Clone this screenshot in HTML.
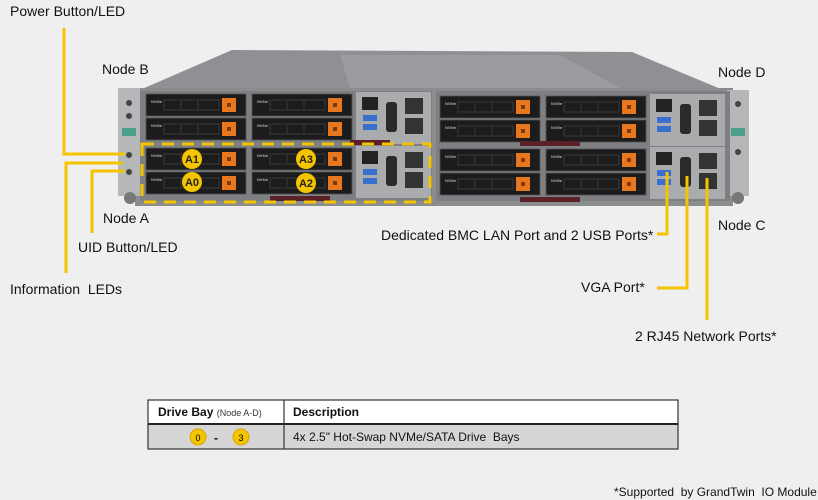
<!DOCTYPE html>
<html><head><meta charset="utf-8"><style>
html,body{margin:0;padding:0;background:#efefef;}
body{width:818px;height:500px;overflow:hidden;position:relative;font-family:"Liberation Sans",sans-serif;}
svg{position:absolute;left:0;top:0}
</style></head><body>
<svg width="818" height="500" viewBox="0 0 818 500" xmlns="http://www.w3.org/2000/svg" font-family="Liberation Sans, sans-serif">
<defs>
<g id="drive">
  <rect x="0" y="0" width="100" height="22" fill="#1c1c1c" stroke="#555" stroke-width="0.8"/>
  <rect x="18" y="6" width="55" height="10" fill="none" stroke="#3a3a3a" stroke-width="1"/>
  <line x1="35" y1="6" x2="35" y2="16" stroke="#3a3a3a"/>
  <line x1="52" y1="6" x2="52" y2="16" stroke="#3a3a3a"/>
  <text x="5" y="9" font-size="4" fill="#ddd">NVMe</text>
  <rect x="76" y="4" width="14" height="14" fill="#e8771e"/>
  <rect x="81" y="9" width="4" height="4" fill="#7a3a10"/>
</g>
<g id="io">
  <rect x="0" y="0" width="75" height="52" fill="#a9abad"/>
  <rect x="6" y="5" width="16" height="13" fill="#222"/>
  <rect x="7" y="23" width="14" height="6" fill="#3a6fd0"/>
  <rect x="7" y="32" width="14" height="6" fill="#3a6fd0"/>
  <rect x="30" y="10" width="11" height="30" rx="3" fill="#2a2a2a"/>
  <rect x="49" y="6" width="18" height="16" fill="#333"/>
  <rect x="49" y="26" width="18" height="16" fill="#333"/>
</g>
<g id="node">
  <use href="#drive" x="0" y="0"/><use href="#drive" x="0" y="24"/>
  <use href="#drive" x="106" y="0"/><use href="#drive" x="106" y="24"/>
  <use href="#io" x="210" y="-2"/>
</g>
</defs>
<!-- chassis top -->
<polygon points="232,50 632,52 728,92 135,92" fill="#8e9093"/>
<polygon points="340,55 560,55 620,88 350,88" fill="#9a9c9f"/>
<!-- front -->
<rect x="135" y="88" width="598" height="118" fill="#8a8c8e"/>
<rect x="118" y="88" width="22" height="108" fill="#b5b7b9"/>
<rect x="727" y="90" width="22" height="106" fill="#b5b7b9"/>
<circle cx="130" cy="198" r="6" fill="#777"/><circle cx="738" cy="198" r="6" fill="#777"/>
<rect x="122" y="128" width="14" height="8" fill="#4aa08a"/><rect x="731" y="128" width="14" height="8" fill="#4aa08a"/>
<circle cx="129" cy="103" r="3" fill="#444"/><circle cx="129" cy="116" r="3" fill="#444"/>
<circle cx="129" cy="155" r="3" fill="#444"/><circle cx="129" cy="172" r="3" fill="#444"/>
<circle cx="738" cy="104" r="3" fill="#444"/><circle cx="738" cy="152" r="3" fill="#444"/>
<rect x="140" y="91" width="292" height="110" fill="#7d7f82"/>
<rect x="436" y="91" width="294" height="110" fill="#7d7f82"/>
<use href="#node" x="146" y="94"/>
<use href="#node" x="146" y="148"/>
<use href="#node" x="440" y="96"/>
<use href="#node" x="440" y="149"/>
<rect x="350" y="140" width="40" height="5" fill="#5a2226"/>
<rect x="520" y="141" width="60" height="5" fill="#5a2226"/>
<rect x="520" y="197" width="60" height="5" fill="#5a2226"/>
<rect x="270" y="196" width="60" height="5" fill="#5a2226"/>
<!-- dashed node A outline -->
<rect x="142" y="144" width="288" height="58" fill="none" stroke="#f5c400" stroke-width="3" stroke-dasharray="12,8"/>
<!-- A labels -->
<g font-size="11" font-weight="bold" text-anchor="middle" fill="#222">
<circle cx="192" cy="159" r="10" fill="#f5c400"/><text x="192" y="163">A1</text>
<circle cx="192" cy="182" r="10" fill="#f5c400"/><text x="192" y="186">A0</text>
<circle cx="306" cy="159" r="10" fill="#f5c400"/><text x="306" y="163">A3</text>
<circle cx="306" cy="183" r="10" fill="#f5c400"/><text x="306" y="187">A2</text>
</g>
<!-- callout lines -->
<g stroke="#f5c400" stroke-width="3" fill="none">
<polyline points="64,28 64,154 125,154"/>
<polyline points="66,273 66,163 123,163"/>
<polyline points="92,233 92,171 125,171"/>
<polyline points="657,234 667,234 667,172"/>
<polyline points="657,288 687,288 687,176"/>
<polyline points="707,320 707,178"/>
</g>
<g font-size="14" fill="#111">
<text x="10" y="16">Power Button/LED</text>
<text x="102" y="74">Node B</text>
<text x="718" y="77">Node D</text>
<text x="103" y="223">Node A</text>
<text x="78" y="252">UID Button/LED</text>
<text x="10" y="294">Information&#160; LEDs</text>
<text x="718" y="230">Node C</text>
<text x="381" y="240">Dedicated BMC LAN Port and 2 USB Ports*</text>
<text x="581" y="292">VGA Port*</text>
<text x="635" y="341">2 RJ45 Network Ports*</text>
</g>
<!-- table -->
<rect x="148" y="400" width="530" height="24" fill="#fff"/>
<rect x="148" y="424" width="530" height="25" fill="#d6d6d6"/>
<rect x="148" y="400" width="530" height="49" fill="none" stroke="#333" stroke-width="1.2"/>
<line x1="148" y1="424" x2="678" y2="424" stroke="#222" stroke-width="2"/>
<line x1="284" y1="400" x2="284" y2="449" stroke="#333" stroke-width="1.2"/>
<text x="158" y="416" font-size="12" font-weight="bold" fill="#111">Drive Bay <tspan font-size="9" font-weight="normal" fill="#333">(Node A-D)</tspan></text>
<text x="293" y="416" font-size="12" font-weight="bold" fill="#111">Description</text>
<circle cx="198" cy="437" r="8" fill="#f5c400" stroke="#d9a800"/><text x="198" y="441" font-size="9" text-anchor="middle">0</text>
<text x="216" y="442" font-size="12" font-weight="bold" text-anchor="middle">-</text>
<circle cx="241" cy="437" r="8" fill="#f5c400" stroke="#d9a800"/><text x="241" y="441" font-size="9" text-anchor="middle">3</text>
<text x="293" y="441" font-size="12" fill="#111">4x 2.5" Hot-Swap NVMe/SATA Drive&#160; Bays</text>
<text x="614" y="496" font-size="12" fill="#111">*Supported&#160; by GrandTwin&#160; IO Module</text>
</svg>
</body></html>
